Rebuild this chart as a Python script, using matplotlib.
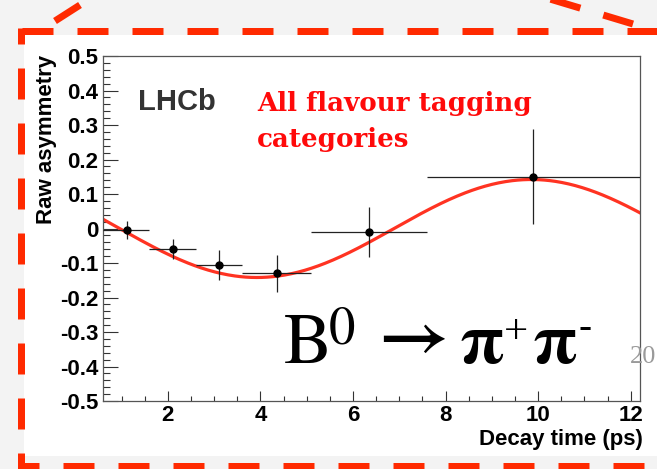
import numpy as np
import matplotlib
matplotlib.use("Agg")
import matplotlib.pyplot as plt
from matplotlib.patches import Rectangle

plt.rcParams['axes.unicode_minus'] = False
plt.rcParams['lines.scale_dashes'] = False
plt.rcParams['mathtext.fontset'] = 'stix'

# data points (decay time bins)
t_centre = [1.11, 2.11, 3.10, 4.35, 6.35, 9.89]
t_low = [0.6, 1.6, 2.6, 3.6, 5.1, 7.6]
t_high = [1.6, 2.6, 3.6, 5.1, 7.6, 12.2]
raw_asym = [-0.004, -0.059, -0.106, -0.130, -0.011, 0.150]
asym_err = [0.025, 0.030, 0.043, 0.053, 0.072, 0.137]

# fitted oscillation
fit_amp = 0.142
fit_dm = 0.53
fit_tmax = 9.85

yticks = [-0.5, -0.4, -0.3, -0.2, -0.1, 0, 0.1, 0.2, 0.3, 0.4, 0.5]
xticks = [2, 4, 6, 8, 10, 12]

W, H = 657, 469
RED = '#ff2a00'

fig = plt.figure(figsize=(W / 100, H / 100), dpi=100)
fig.patch.set_facecolor('#f3f3f3')

# white plot area on the slide
bg = fig.add_axes([0, 0, 1, 1], zorder=0)
bg.set_xlim(0, W)
bg.set_ylim(H, 0)
bg.axis('off')
bg.add_patch(Rectangle((24, 35), W - 24, 421, facecolor='white', edgecolor='none'))

ax = fig.add_axes([103 / W, 1 - 401 / H, (640 - 103) / W, (401 - 56) / H], zorder=1)
ax.set_xlim(0.6, 12.2)
ax.set_ylim(-0.5, 0.5)

t = np.array(t_centre)
xerr = [t - np.array(t_low), np.array(t_high) - t]
ax.errorbar(t_centre, raw_asym, xerr=xerr, yerr=asym_err, fmt='o', color='black',
            ecolor='#222222', elinewidth=0.9, markersize=5, capsize=0, zorder=3)

tt = np.linspace(0.6, 12.2, 400)
ax.plot(tt, fit_amp * np.cos(fit_dm * (tt - fit_tmax)), color='#ff3322', lw=2.3, zorder=2)

ax.set_xticks(xticks)
ax.set_xticks(np.arange(1.0, 12.21, 0.5), minor=True)
ax.set_yticks(yticks)
ax.set_yticks(np.arange(-0.5, 0.501, 0.02), minor=True)
ax.set_yticklabels(['%g' % v for v in yticks])
ax.tick_params(axis='both', which='both', direction='in', color='#333333', width=0.8,
               top=False, right=False)
ax.tick_params(axis='y', which='major', length=10.8, pad=3.4)
ax.tick_params(axis='y', which='minor', length=5)
ax.tick_params(axis='x', which='major', length=7.2, pad=2.6)
ax.tick_params(axis='x', which='minor', length=3.6)
for lab in ax.get_xticklabels() + ax.get_yticklabels():
    lab.set_fontfamily('Liberation Sans')
    lab.set_fontweight('bold')
    lab.set_fontsize(16)
for s in ax.spines.values():
    s.set_color('#555555')
    s.set_linewidth(0.9)

# overlay in pixel coordinates for labels and slide frame
ov = fig.add_axes([0, 0, 1, 1], zorder=2)
ov.set_xlim(0, W)
ov.set_ylim(H, 0)
ov.axis('off')

ov.text(47, 55, 'Raw asymmetry', rotation=90, ha='center', va='top',
        family='Liberation Sans', weight='bold', fontsize=16)
ov.text(643, 445, 'Decay time (ps)', ha='right', va='baseline',
        family='Liberation Sans', weight='bold', fontsize=16)
ov.text(138, 110, 'LHCb', ha='left', va='baseline', family='Liberation Sans',
        weight='bold', fontsize=21, color='#333333')
ov.text(257, 111, 'All flavour tagging', ha='left', va='baseline',
        family='DejaVu Serif', weight='bold', fontsize=18.8, color='#ff0a0a')
ov.text(257, 147, 'categories', ha='left', va='baseline',
        family='DejaVu Serif', weight='bold', fontsize=18.8, color='#ff0a0a')

# B0 -> pi+ pi- built from pieces
ov.text(283, 363, r'$\mathrm{B}$', ha='left', va='baseline', fontsize=52)
ov.text(328, 343, r'$\mathrm{0}$', ha='left', va='baseline', fontsize=38)
ov.text(368, 356, r'$\mathbf{\rightarrow}$', ha='left', va='baseline', fontsize=52)
ov.text(459, 363, r'$\mathbf{\pi}$', ha='left', va='baseline', fontsize=51)
ov.text(504, 343, '+', ha='left', va='baseline', family='Liberation Serif',
        fontsize=31)
ov.text(532, 363, r'$\mathbf{\pi}$', ha='left', va='baseline', fontsize=51)
ov.text(579, 338, '-', ha='left', va='baseline', family='Liberation Serif',
        fontsize=28)
ov.text(630, 363, '20', ha='left', va='baseline', family='Liberation Serif',
        fontsize=19, color='#9a9a9a')

# dashed slide frame
lw = 7 * 0.72
dash = (31 * 0.72, 24 * 0.72)
ov.plot([22, W], [31.5, 31.5], color=RED, lw=lw, ls=(0, dash), dash_capstyle='butt')
ov.plot([21, 21], [28, H], color=RED, lw=lw, ls=(15 * 0.72, dash), dash_capstyle='butt')
ov.plot([18, W], [466.5, 466.5], color=RED, lw=lw, ls=(10 * 0.72, dash), dash_capstyle='butt')
ov.plot([55, 80], [21, 5], color=RED, lw=lw, solid_capstyle='butt')
ov.plot([633, 520], [24, -10], color=RED, lw=lw, ls=(0, dash), dash_capstyle='butt')

fig.savefig('out.png', dpi=100, facecolor=fig.get_facecolor())
